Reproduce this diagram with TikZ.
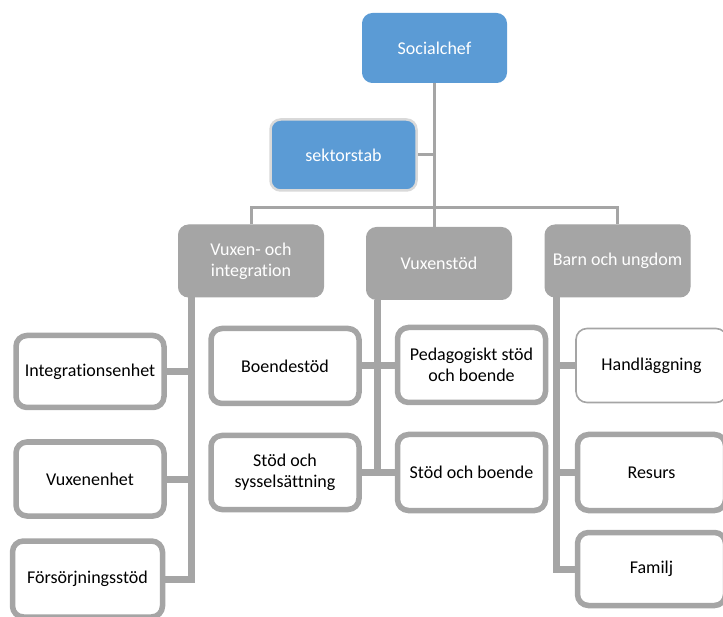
\documentclass[tikz,border=0pt]{standalone}
\usepackage{fontspec}
\setmainfont{Carlito}[Ligatures={NoCommon}]
\definecolor{gr}{HTML}{A5A5A5}
\definecolor{bl}{HTML}{5B9BD5}
\definecolor{lg}{HTML}{D9D9D9}
\tikzset{
  topbox/.style={rounded corners=10pt, fill=bl, draw=bl, line width=1pt, text=white, align=center, font=\fontsize{18}{21}\selectfont, inner sep=2pt},
  midbox/.style={rounded corners=10pt, fill=gr, draw=gr, line width=1pt, text=white, align=center, font=\fontsize{18}{21}\selectfont, inner sep=2pt, minimum width=145pt, minimum height=72pt},
  leaf/.style={rounded corners=11pt, fill=white, draw=gr, line width=5.5pt, text=black, align=center, font=\fontsize{18}{21}\selectfont, inner sep=2pt, minimum width=148pt, minimum height=72pt},
  thinleaf/.style={leaf, line width=1.6pt, minimum width=151pt, minimum height=74pt},
  conn/.style={draw=gr, line width=3pt},
  trunk/.style={draw=gr, line width=7pt, line join=miter},
}
\begin{document}
\begin{tikzpicture}[x=1pt,y=-1pt]
\useasboundingbox (0,0) rectangle (723,617);
\clip (0,0) rectangle (723,617);
% top
\node[topbox, minimum width=144pt, minimum height=69pt] (soc) at (434.5,48) {Socialchef};
\node[topbox, draw=lg, line width=2.5pt, minimum width=146pt, minimum height=71pt] (ss) at (343.5,155) {sektorstab};
% level 2
\node[midbox] (vi) at (251,261) {Vuxen- och\\integration};
\node[midbox] (vs) at (439,263.5) {Vuxenstöd};
\node[midbox] (bu) at (617.5,261) {Barn och ungdom};
% leaves
\node[leaf] (ie) at (90,371.5) {Integrationsenhet};
\node[leaf, minimum height=74pt] (ve) at (90,479) {Vuxenenhet};
\node[leaf, minimum width=150pt, minimum height=76pt] (fs) at (87.5,579) {Försörjningsstöd};
\node[leaf, minimum height=75pt] (bd) at (285,366) {Boendestöd};
\node[leaf, minimum height=74pt] (sy) at (285,472.5) {Stöd och\\sysselsättning};
\node[leaf, minimum height=75pt] (ps) at (471.5,365) {Pedagogiskt stöd\\och boende};
\node[leaf, minimum height=76pt] (sb) at (471.5,472.5) {Stöd och boende};
\node[thinleaf] (hl) at (651.5,365.5) {Handläggning};
\node[leaf, minimum height=76pt] (re) at (651.5,472.5) {Resurs};
\node[leaf, minimum height=73pt] (fa) at (651.5,569) {Familj};
% top connectors
\coordinate (hb) at (434.5,208);
\draw[conn] (soc.south) -- (soc.south |- vs.north);
\draw[conn] (ss.east) -- (ss.east -| soc.south);
\draw[conn] (vi.north) |- (hb) -| (bu.north);
% trunks
\coordinate (t1) at (191,0);
\coordinate (t2) at (377,0);
\coordinate (t3) at (556,0);
\draw[trunk] (vi.south -| t1) |- (fs.east);
\draw[trunk] (t1 |- ie.east) -- (ie.east);
\draw[trunk] (t1 |- ve.east) -- (ve.east);
\draw[trunk] (vs.south -| t2) -- (t2 |- sb.west);
\draw[trunk] (bd.east) -- (bd.east -| ps.west);
\draw[trunk] (sy.east) -- (sy.east -| sb.west);
\draw[trunk] (bu.south -| t3) |- (fa.west);
\draw[trunk] (t3 |- hl.west) -- (hl.west);
\draw[trunk] (t3 |- re.west) -- (re.west);
\end{tikzpicture}
\end{document}
